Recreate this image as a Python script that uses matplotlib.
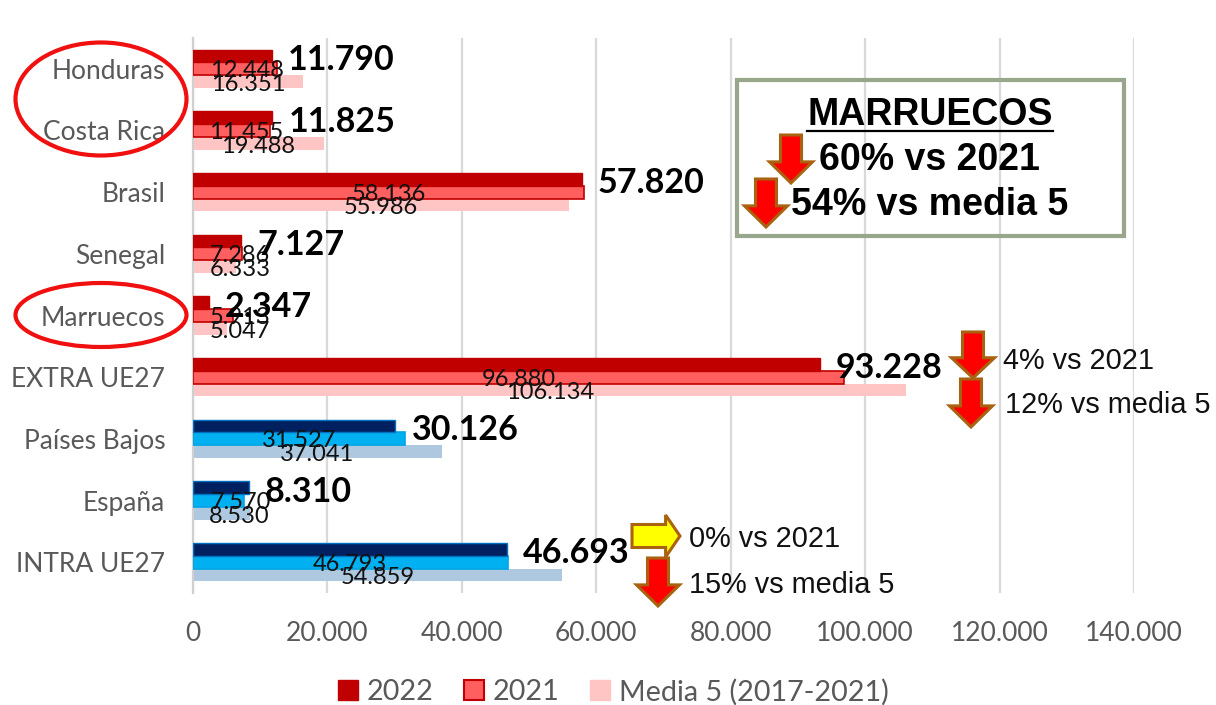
import matplotlib
matplotlib.use('Agg')
import matplotlib.pyplot as plt
from matplotlib.patches import Ellipse, Polygon, Rectangle

paises = ['Honduras', 'Costa Rica', 'Brasil', 'Senegal', 'Marruecos',
          'EXTRA UE27', 'Países Bajos', 'España', 'INTRA UE27']
v2022 = [11790, 11825, 57820, 7127, 2347, 93228, 30126, 8310, 46693]
v2021 = [12448, 11455, 58136, 7286, 5913, 96880, 31527, 7570, 46793]
media5 = [16351, 19488, 55986, 6333, 5047, 106134, 37041, 8530, 54859]
xticks = [0, 20000, 40000, 60000, 80000, 100000, 120000, 140000]

# etiquetas movidas a mano en el original (pixeles desde el centro de la barra)
nudge_2021 = [12, 15, 0, 22, 27, 0, 0, 22, 0]
nudge_media = [0, 0, 0, 26, 30, 0, 0, 18, 0]

sans = 'Lato'
arial = 'Liberation Sans'
gris = '#595959'


def fmt(v):
    return f'{v:,}'.replace(',', '.')


def flecha(ax, cx, top, tip, w=43, sw=21, color='#FF0000'):
    neck = tip - (tip - top) * 0.44
    pts = [(cx - sw / 2, top), (cx + sw / 2, top), (cx + sw / 2, neck), (cx + w / 2, neck),
           (cx, tip), (cx - w / 2, neck), (cx - sw / 2, neck)]
    ax.add_patch(Polygon(pts, closed=True, fc=color, ec='#A9620F', lw=2.2, joinstyle='miter'))


def flecha_dcha(ax, left, tip, cy, h=42, sh=23, color='#FFFF00'):
    neck = tip - (tip - left) * 0.3
    pts = [(left, cy - sh / 2), (neck, cy - sh / 2), (neck, cy - h / 2), (tip, cy),
           (neck, cy + h / 2), (neck, cy + sh / 2), (left, cy + sh / 2)]
    ax.add_patch(Polygon(pts, closed=True, fc=color, ec='#A9620F', lw=2.2, joinstyle='miter'))


fig = plt.figure(figsize=(12.16, 7.05), dpi=100)
ax = fig.add_axes([193 / 1216, 1 - 593 / 705, 941 / 1216, 555 / 705])

h = 0.206
for i in range(len(paises)):
    if i >= 6:
        c22, e22, c21, e21, cm = '#002060', '#0070C0', '#00B0F0', '#00A5E5', '#ADC8DF'
    else:
        c22, e22, c21, e21, cm = '#C00000', '#C00000', '#FF5F5F', '#C00000', '#FFC5C5'
    ax.barh(i + h, media5[i], height=h, color=cm, zorder=2)
    ax.barh(i, v2021[i], height=h, color=c21, edgecolor=e21, linewidth=1.2, zorder=3)
    ax.barh(i - h, v2022[i], height=h, color=c22, edgecolor=e22, linewidth=1.0, zorder=4)
    ax.annotate(fmt(v2022[i]), (v2022[i], i - h), xytext=(16, -4), textcoords='offset pixels',
                ha='left', va='center', fontsize=24.5, fontweight='bold', family=sans,
                color='black', zorder=6)
    ax.annotate(fmt(v2021[i]), (v2021[i] / 2, i), xytext=(nudge_2021[i], -2), textcoords='offset pixels',
                ha='center', va='center', fontsize=17, family=sans, color='#111111', zorder=5)
    ax.annotate(fmt(media5[i]), (media5[i] / 2, i + h), xytext=(nudge_media[i], -3), textcoords='offset pixels',
                ha='center', va='center', fontsize=17, family=sans, color='#111111', zorder=5)

ax.set_xlim(0, 140000)
ax.set_ylim(len(paises) - 0.5, -0.5)
ax.set_yticks(range(len(paises)))
ax.set_yticklabels(paises, family=sans, fontsize=19, color=gris)
ax.set_xticks(xticks)
ax.set_xticklabels([fmt(t) for t in xticks], family=sans, fontsize=19, color=gris)
ax.tick_params(axis='both', length=0)
ax.tick_params(axis='y', pad=20)
ax.tick_params(axis='x', pad=20)
ax.grid(axis='x', color='#D9D9D9', linewidth=1.6, zorder=0)
ax.set_axisbelow(True)
for s in ['top', 'right', 'bottom']:
    ax.spines[s].set_visible(False)
ax.spines['left'].set_color('#D0D0D0')
ax.spines['left'].set_linewidth(1.6)

h1 = Rectangle((0, 0), 1, 1, fc='#C00000', ec='#C00000')
h2 = Rectangle((0, 0), 1, 1, fc='#FF5F5F', ec='#C00000', lw=1.5)
h3 = Rectangle((0, 0), 1, 1, fc='#FFC5C5', ec='#FFC5C5')
fig.legend([h1, h2, h3], ['2022', '2021', 'Media 5 (2017-2021)'], loc='center',
           bbox_to_anchor=(613 / 1216, 1 - 692 / 705), ncol=3, frameon=False,
           prop={'family': sans, 'size': 20.7}, labelcolor=gris, handlelength=0.7, handleheight=0.7,
           handletextpad=0.3, columnspacing=1.06)

# capa en pixeles para las anotaciones
ov = fig.add_axes([0, 0, 1, 1], facecolor='none')
ov.set_xlim(0, 1216)
ov.set_ylim(705, 0)
ov.axis('off')

ov.add_patch(Ellipse((101, 99), 171, 113, fc='none', ec='#F01010', lw=3))
ov.add_patch(Ellipse((101, 315), 171, 64, fc='none', ec='#F01010', lw=3))

ov.add_patch(Rectangle((737, 80), 387, 156, fc='none', ec='#98A68C', lw=3))
ov.text(930, 115, 'MARRUECOS', family=arial, fontweight='bold', fontsize=27, ha='center', va='center', color='black')
ov.plot([807, 1053], [131, 131], color='black', lw=1.6)
ov.text(929, 160, '60% vs 2021', family=arial, fontweight='bold', fontsize=27, ha='center', va='center', color='black')
ov.text(930, 205, '54% vs media 5', family=arial, fontweight='bold', fontsize=27, ha='center', va='center', color='black')
flecha(ov, 791, 135, 183)
flecha(ov, 766, 179, 227)

flecha(ov, 973, 332, 378)
flecha(ov, 971, 379, 427)
ov.text(1003, 361, '4% vs 2021', family=arial, fontsize=20.8, ha='left', va='center', color='#111111')
ov.text(1005, 405, '12% vs media 5', family=arial, fontsize=20.8, ha='left', va='center', color='#111111')

flecha_dcha(ov, 632, 680, 536)
flecha(ov, 658, 558, 606)
ov.text(689, 539, '0% vs 2021', family=arial, fontsize=20.8, ha='left', va='center', color='#111111')
ov.text(689, 585, '15% vs media 5', family=arial, fontsize=20.8, ha='left', va='center', color='#111111')

fig.savefig('out.png', dpi=100)
